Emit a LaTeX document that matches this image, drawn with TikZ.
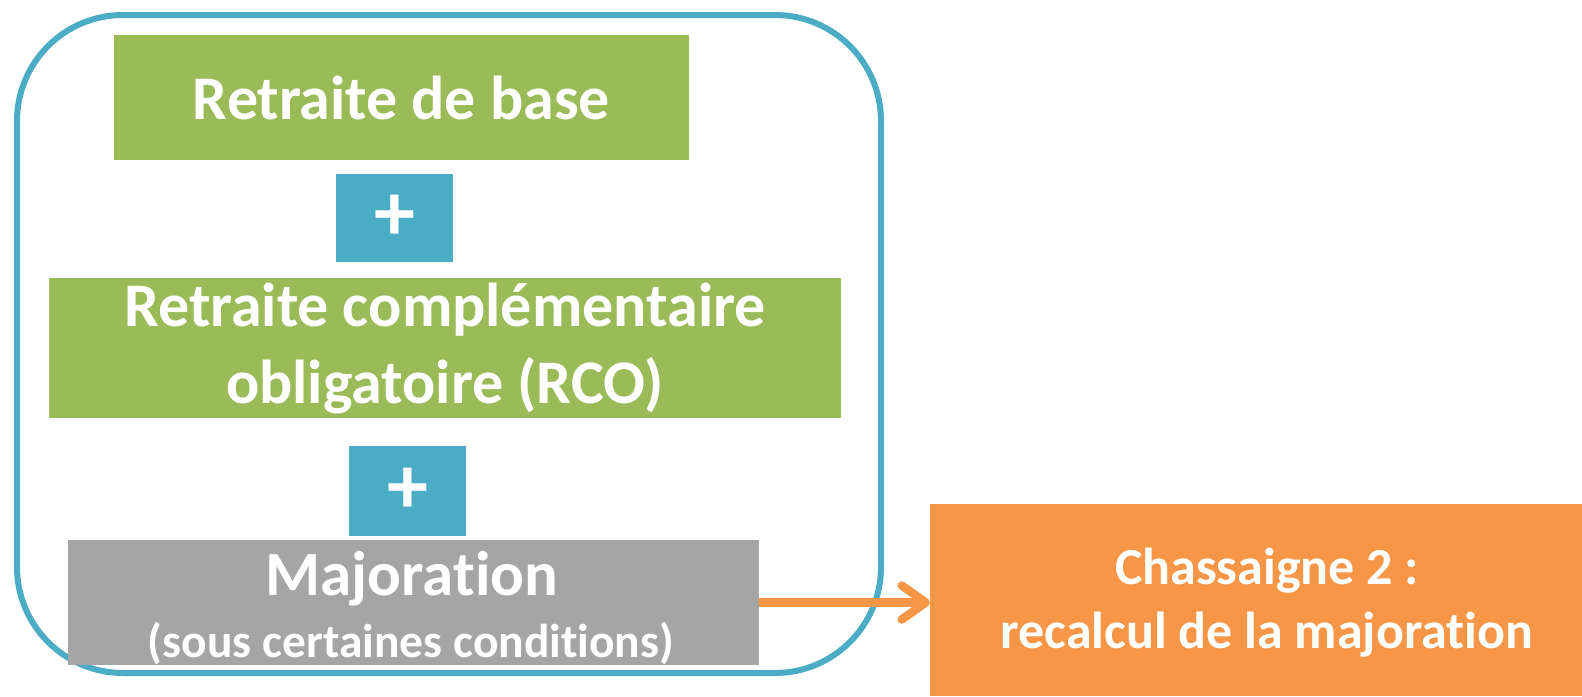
\documentclass[tikz,border=0pt]{standalone}
\usepackage{fontspec}
\setmainfont{Carlito}[Ligatures=NoCommon]
\usetikzlibrary{arrows.meta}
\definecolor{frameblue}{HTML}{4BACC6}
\definecolor{boxgreen}{HTML}{9BBB59}
\definecolor{boxgray}{HTML}{A5A5A5}
\definecolor{boxorange}{HTML}{F79646}
\newcommand{\nl}{\kern0pt }
\begin{document}
\begin{tikzpicture}[x=1pt,y=-1pt,
  box/.style={inner sep=0pt, outer sep=0pt, text=white, align=center, font=\bfseries\fontsize{62}{77}\selectfont},
  plusbox/.style={box, fill=frameblue, minimum width=117pt, font=\bfseries\fontsize{82}{82}\selectfont},
  label/.style={inner sep=0pt, outer sep=0pt, text=white, align=center},
  arrowline/.style={draw=boxorange, line width=8.5pt, -{Straight Barb[length=24pt,width=34pt,round]}}]
\useasboundingbox (0,0) rectangle (1582,696);
\fill[white] (0,0) rectangle (1582,696);
\draw[frameblue, line width=6pt, rounded corners=106pt] (17,15) rectangle (881,673);
\node[box, fill=boxgreen, minimum width=575pt, minimum height=125pt] (base) at (401.5,97.5) {Retraite de base};
\node[plusbox, minimum height=88pt] (plusA) at (394.5,218) {+};
\node[box, fill=boxgreen, minimum width=792pt, minimum height=140pt] (rco) at (445,348) {Retraite complémentaire\\obligatoire (RCO)};
\node[plusbox, minimum height=90pt] (plusB) at (407.5,491) {+};
\node[box, fill=boxgray, minimum width=691pt, minimum height=125pt] (maj) at (413.5,602.5) {};
\node[label, anchor=base, font=\bfseries\fontsize{63}{63}\selectfont] (majA) at (412,595) {Majorat\nl ion};
\node[label, anchor=base, font=\bfseries\fontsize{47.5}{47.5}\selectfont] (majB) at (411,657) {(sous certaines condit\nl ions)};
\node[box, fill=boxorange, minimum width=652pt, minimum height=192pt] (ch) at (1256,600) {};
\node[label, font=\bfseries\fontsize{52}{64}\selectfont] (chT) at (1267,603) {Chassaigne 2 :\\recalcul de la majorat\nl ion};
\draw[arrowline] (maj.east) -- (maj.east -| ch.west);
\end{tikzpicture}
\end{document}
